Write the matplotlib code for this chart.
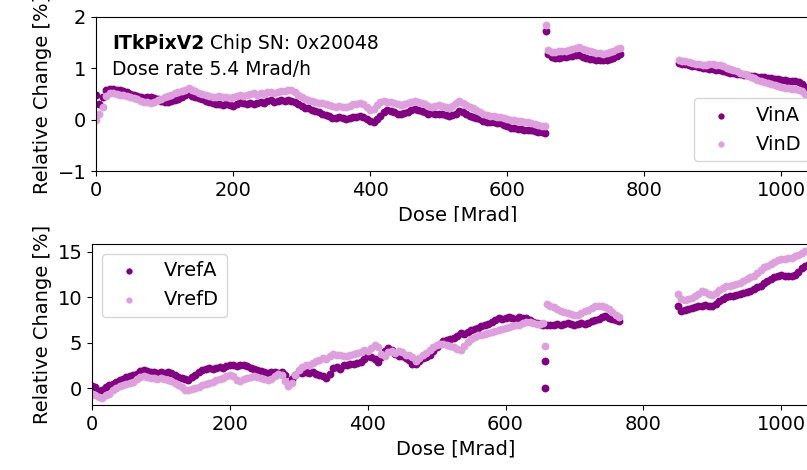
import numpy as np
import matplotlib.pyplot as plt
from matplotlib.transforms import Bbox, TransformedBbox

# dose points of the three irradiation runs (Mrad)
dose_run1 = np.arange(0, 660, 5)
dose_run2 = np.arange(660, 770, 5)
dose_run3 = np.arange(850, 1045, 5)
dose_spike = 657

# relative change of VinA [%]
vinA_run1 = [0.48, 0.30, 0.45, 0.57, 0.59, 0.60, 0.58, 0.57, 0.55, 0.53,
             0.50, 0.48, 0.46, 0.44, 0.43, 0.45, 0.44, 0.42, 0.40, 0.37,
             0.35, 0.34, 0.36, 0.38, 0.40, 0.44, 0.48, 0.50, 0.46, 0.44,
             0.42, 0.40, 0.37, 0.34, 0.33, 0.31, 0.30, 0.29, 0.31, 0.28,
             0.27, 0.31, 0.35, 0.32, 0.30, 0.33, 0.31, 0.33, 0.35, 0.33,
             0.36, 0.38, 0.35, 0.37, 0.39, 0.37, 0.38, 0.36, 0.34, 0.31,
             0.26, 0.23, 0.22, 0.19, 0.16, 0.14, 0.12, 0.10, 0.07, 0.04,
             0.03, 0.05, 0.04, 0.02, 0.04, 0.06, 0.05, 0.07, 0.05, 0.01,
             -0.03, -0.04, 0.02, 0.08, 0.14, 0.19, 0.17, 0.14, 0.12, 0.11,
             0.13, 0.15, 0.18, 0.20, 0.18, 0.16, 0.14, 0.12, 0.13, 0.12,
             0.12, 0.11, 0.10, 0.08, 0.09, 0.12, 0.17, 0.15, 0.11, 0.08,
             0.06, 0.04, 0.02, -0.02, -0.04, -0.04, -0.05, -0.06, -0.07, -0.10,
             -0.13, -0.16, -0.17, -0.18, -0.19, -0.20, -0.21, -0.20, -0.22, -0.23,
             -0.24, -0.26]
vinA_run2 = [1.27, 1.22, 1.20, 1.21, 1.22, 1.22, 1.23, 1.24, 1.25, 1.26,
             1.22, 1.20, 1.19, 1.18, 1.17, 1.16, 1.16, 1.17, 1.18, 1.20,
             1.24, 1.27]
vinA_run3 = [1.10, 1.09, 1.08, 1.06, 1.05, 1.04, 1.03, 1.01, 1.00, 0.99,
             0.98, 0.97, 0.97, 0.95, 0.93, 0.91, 0.90, 0.89, 0.88, 0.87,
             0.87, 0.86, 0.85, 0.84, 0.84, 0.83, 0.82, 0.81, 0.80, 0.80,
             0.78, 0.77, 0.76, 0.76, 0.75, 0.74, 0.70, 0.64, 0.60]
vinA_spike = [1.73]

# relative change of VinD [%]
vinD_run1 = [0.00, 0.12, 0.24, 0.46, 0.51, 0.52, 0.50, 0.49, 0.48, 0.46,
             0.44, 0.42, 0.40, 0.37, 0.35, 0.34, 0.33, 0.35, 0.38, 0.41,
             0.44, 0.47, 0.49, 0.51, 0.54, 0.56, 0.58, 0.61, 0.58, 0.55,
             0.52, 0.50, 0.48, 0.46, 0.45, 0.44, 0.46, 0.44, 0.45, 0.43,
             0.44, 0.47, 0.48, 0.46, 0.48, 0.50, 0.51, 0.49, 0.52, 0.50,
             0.53, 0.54, 0.51, 0.53, 0.55, 0.56, 0.58, 0.57, 0.53, 0.48,
             0.44, 0.40, 0.38, 0.36, 0.34, 0.33, 0.32, 0.30, 0.28, 0.26,
             0.25, 0.26, 0.24, 0.25, 0.27, 0.30, 0.31, 0.33, 0.30, 0.24,
             0.19, 0.20, 0.28, 0.34, 0.36, 0.35, 0.35, 0.33, 0.30, 0.28,
             0.30, 0.32, 0.34, 0.36, 0.35, 0.33, 0.30, 0.27, 0.25, 0.27,
             0.29, 0.27, 0.25, 0.22, 0.26, 0.33, 0.37, 0.33, 0.28, 0.25,
             0.22, 0.18, 0.14, 0.11, 0.09, 0.08, 0.07, 0.06, 0.06, 0.04,
             0.02, 0.00, -0.01, -0.02, -0.03, -0.04, -0.05, -0.06, -0.08, -0.10,
             -0.12, -0.13]
vinD_run2 = [1.35, 1.32, 1.31, 1.33, 1.34, 1.34, 1.36, 1.38, 1.40, 1.41,
             1.37, 1.35, 1.33, 1.31, 1.30, 1.29, 1.28, 1.30, 1.32, 1.34,
             1.37, 1.39]
vinD_run3 = [1.16, 1.15, 1.14, 1.12, 1.10, 1.09, 1.08, 1.07, 1.07, 1.08,
             1.08, 1.07, 1.07, 1.04, 1.01, 0.99, 0.97, 0.94, 0.91, 0.89,
             0.87, 0.84, 0.81, 0.78, 0.76, 0.73, 0.71, 0.69, 0.67, 0.66,
             0.64, 0.62, 0.61, 0.60, 0.59, 0.58, 0.55, 0.50, 0.46]
vinD_spike = [1.84]

# relative change of VrefA [%]
vrefA_run1 = [0.2, 0.1, -0.3, -0.2, 0.1, 0.3, 0.5, 0.7, 0.9, 1.0,
              1.2, 1.3, 1.4, 1.6, 1.9, 2.0, 1.9, 1.8, 1.8, 1.7,
              1.8, 1.7, 1.8, 1.7, 1.4, 1.2, 1.1, 1.0, 0.9, 1.2,
              1.5, 1.8, 2.0, 2.1, 2.2, 2.1, 2.2, 2.3, 2.2, 2.4,
              2.6, 2.5, 2.4, 2.6, 2.5, 2.4, 2.2, 2.1, 2.0, 1.9,
              1.8, 1.7, 1.8, 1.8, 1.7, 1.8, 1.4, 0.6, 1.0, 1.5,
              1.8, 1.7, 1.8, 1.7, 1.8, 1.6, 1.5, 1.3, 1.1, 1.6,
              2.2, 2.3, 2.1, 2.5, 2.6, 2.7, 2.7, 2.8, 2.9, 3.2,
              3.5, 3.4, 3.2, 2.9, 3.4, 4.1, 4.4, 4.2, 3.8, 3.5,
              3.5, 3.3, 3.1, 2.7, 2.7, 3.0, 3.3, 3.4, 3.7, 4.1,
              4.5, 4.9, 5.2, 5.3, 5.4, 5.5, 5.7, 6.1, 6.0, 6.2,
              6.4, 6.5, 6.6, 6.8, 6.9, 7.1, 7.3, 7.5, 7.7, 7.6,
              7.7, 7.8, 7.7, 7.6, 7.8, 7.7, 7.7, 7.5, 7.3, 7.2,
              7.1, 7.0]
vrefA_run2 = [6.9, 6.9, 7.0, 7.1, 7.0, 7.1, 7.2, 7.1, 7.0, 7.1,
              7.2, 7.1, 7.2, 7.4, 7.5, 7.6, 7.8, 7.9, 7.7, 7.6,
              7.5, 7.4]
vrefA_run3 = [9.0, 8.5, 8.6, 8.7, 8.8, 8.9, 9.0, 9.1, 9.2, 9.0,
              9.0, 9.3, 9.6, 9.8, 10.0, 10.1, 10.2, 10.3, 10.4, 10.5,
              10.6, 10.7, 10.9, 11.1, 11.3, 11.6, 11.8, 12.0, 12.2, 12.4,
              12.5, 12.4, 12.3, 12.3, 12.5, 12.8, 13.2, 13.5, 13.7]
vrefA_spike = [2.98, 0.07]

# relative change of VrefD [%]
vrefD_run1 = [-0.6, -0.8, -1.0, -1.1, -0.8, -0.6, -0.2, 0.0, 0.2, 0.3,
              0.5, 0.6, 0.7, 1.0, 1.2, 1.3, 1.2, 1.1, 1.1, 1.0,
              1.1, 1.0, 0.9, 0.8, 0.6, 0.3, 0.1, -0.2, -0.2, -0.1,
              0.0, 0.1, 0.3, 0.5, 0.6, 0.7, 0.9, 1.0, 1.1, 1.3,
              1.5, 1.3, 0.9, 0.8, 1.0, 1.1, 1.2, 1.3, 1.2, 1.1,
              1.0, 0.9, 1.0, 1.3, 1.6, 1.4, 0.8, 0.2, 0.6, 1.4,
              2.0, 2.3, 2.5, 2.6, 2.8, 3.0, 3.1, 3.3, 3.2, 3.5,
              3.8, 3.7, 3.6, 3.5, 3.5, 3.6, 3.8, 3.9, 4.0, 4.2,
              4.1, 4.4, 4.7, 4.5, 3.8, 3.5, 4.0, 4.1, 3.9, 4.1,
              4.0, 3.7, 3.6, 3.4, 3.0, 3.3, 3.7, 3.9, 4.2, 4.5,
              4.7, 4.9, 4.9, 4.8, 4.6, 4.5, 4.3, 4.2, 4.6, 5.1,
              5.4, 5.6, 5.8, 5.9, 6.0, 6.1, 6.2, 6.3, 6.4, 6.5,
              6.6, 6.7, 6.8, 6.9, 7.0, 7.2, 7.3, 7.3, 7.2, 7.1,
              7.1, 7.2]
vrefD_run2 = [9.3, 9.1, 8.9, 8.7, 8.5, 8.4, 8.3, 8.2, 8.0, 8.1,
              8.3, 8.5, 8.6, 8.8, 9.0, 9.1, 9.1, 8.9, 8.7, 8.4,
              8.1, 7.8]
vrefD_run3 = [10.4, 9.8, 9.7, 9.8, 9.9, 10.1, 10.4, 10.7, 10.6, 10.4,
              10.3, 10.5, 10.8, 11.0, 11.2, 11.3, 11.4, 11.5, 11.6, 11.8,
              12.0, 12.2, 12.4, 12.7, 13.0, 13.3, 13.5, 13.7, 13.9, 14.1,
              14.2, 14.2, 14.3, 14.3, 14.5, 14.7, 14.9, 15.1, 15.2]
vrefD_spike = [4.67]


def join(run1, run2, run3, spike):
    # stack the runs plus the readings taken right after the restart
    d = np.concatenate([dose_run1, [dose_spike] * len(spike), dose_run2, dose_run3])
    v = np.concatenate([run1, spike, run2, run3])
    return d, v


plt.rcParams['font.size'] = 14
msize = 32

fig = plt.figure(figsize=(8.07, 4.70), dpi=100)
ax1 = fig.add_axes([0.119, 0.636, 0.896, 0.328])
ax2 = fig.add_axes([0.114, 0.138, 0.901, 0.343])

# supply voltages
d, v = join(vinA_run1, vinA_run2, vinA_run3, vinA_spike)
ax1.scatter(d, v, s=msize, color='purple', linewidths=0, label='VinA')
d, v = join(vinD_run1, vinD_run2, vinD_run3, vinD_spike)
ax1.scatter(d, v, s=msize, color='plum', linewidths=0, label='VinD')
ax1.set_xlim(0, 1055)
ax1.set_ylim(-1, 2)
ax1.set_yticks([-1, 0, 1, 2])
ax1.set_ylabel('Relative Change [%]')
xl = ax1.set_xlabel('Dose [Mrad]')
xl.set_clip_box(TransformedBbox(Bbox([[0, 248 / 470], [1, 1]]), fig.transFigure))
ax1.legend(loc='lower right', markerscale=0.8)

t = ax1.text(0.022, 0.79, 'ITkPixV2', transform=ax1.transAxes,
             fontsize=13.5, fontweight='bold', va='baseline')
ax1.annotate(' Chip SN: 0x20048', xy=(1, 0), xycoords=t, va='bottom',
             fontsize=13.5)
ax1.text(0.022, 0.623, 'Dose rate 5.4 Mrad/h', transform=ax1.transAxes,
         fontsize=13.5, va='baseline')

# reference voltages
d, v = join(vrefA_run1, vrefA_run2, vrefA_run3, vrefA_spike)
ax2.scatter(d, v, s=msize, color='purple', linewidths=0, label='VrefA')
d, v = join(vrefD_run1, vrefD_run2, vrefD_run3, vrefD_spike)
ax2.scatter(d, v, s=msize, color='plum', linewidths=0, label='VrefD')
ax2.set_xlim(0, 1055)
ax2.set_ylim(-1.87, 15.88)
ax2.set_yticks([0, 5, 10, 15])
ax2.set_xlabel('Dose [Mrad]')
ax2.set_ylabel('Relative Change [%]')
ax2.legend(loc='upper left', markerscale=0.8)

fig.savefig('out.png', dpi=100)
